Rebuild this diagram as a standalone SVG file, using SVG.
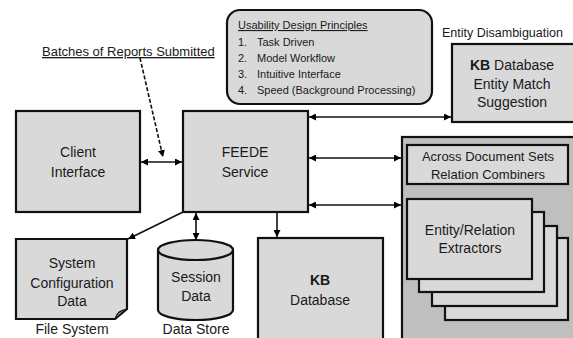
<svg xmlns="http://www.w3.org/2000/svg" width="573" height="338" viewBox="0 0 573 338">
<defs>
<marker id="ah" viewBox="0 0 8 8" refX="8" refY="4" markerWidth="7" markerHeight="7" markerUnits="userSpaceOnUse" orient="auto-start-reverse">
<path d="M0,0 L8,4 L0,8 z" fill="#000"/>
</marker>
<style>
text{font-family:"Liberation Sans",Arial,sans-serif;fill:#1a1a1a;}
.box{fill:#d9d9d9;stroke:#111;stroke-width:2.2;}
.lbl{font-size:14px;text-anchor:middle;}
.small{font-size:11px;}
.con{stroke:#111;stroke-width:1.6;fill:none;}
</style>
</defs>
<rect width="573" height="338" fill="#fff"/>

<g id="usability">
<rect x="227" y="10" width="205" height="94" rx="13" class="box"/>
<text x="238" y="29" class="small" text-decoration="underline">Usability Design Principles</text>
<text x="238" y="46" class="small">1.</text><text x="257" y="46" class="small">Task Driven</text>
<text x="238" y="62" class="small">2.</text><text x="257" y="62" class="small">Model Workflow</text>
<text x="238" y="78" class="small">3.</text><text x="257" y="78" class="small">Intuitive Interface</text>
<text x="238" y="94" class="small">4.</text><text x="257" y="94" class="small">Speed (Background Processing)</text>
</g>

<g id="batches">
<text x="42" y="56" style="font-size:13px" text-decoration="underline">Batches of Reports Submitted</text>
</g>

<g id="entity-disambiguation">
<text x="442" y="37" style="font-size:12.5px">Entity Disambiguation</text>
<rect x="452" y="44" width="125" height="78" class="box"/>
<text x="512" y="70" class="lbl"><tspan font-weight="bold">KB</tspan> Database</text>
<text x="512" y="89" class="lbl">Entity Match</text>
<text x="512" y="107" class="lbl">Suggestion</text>
</g>

<g id="client">
<rect x="16" y="111" width="124" height="101" class="box"/>
<text x="78" y="157" class="lbl">Client</text>
<text x="78" y="177" class="lbl">Interface</text>
</g>

<g id="feede">
<rect x="183" y="111" width="125" height="101" class="box"/>
<text x="245" y="157" class="lbl">FEEDE</text>
<text x="245" y="177" class="lbl">Service</text>
</g>

<g id="extraction">
<rect x="402" y="137" width="175" height="210" fill="#bfbfbf" stroke="#111" stroke-width="2.2"/>
<rect x="407" y="145" width="161" height="39" class="box"/>
<text x="488" y="161" class="lbl" style="font-size:13px">Across Document Sets</text>
<text x="488" y="179" class="lbl" style="font-size:13px">Relation Combiners</text>
<rect x="445" y="238" width="123" height="82" class="box"/>
<rect x="432" y="226" width="125" height="80" class="box"/>
<rect x="419" y="212" width="125" height="80" class="box"/>
<rect x="407" y="199" width="125" height="80" class="box"/>
<text x="470" y="235" class="lbl">Entity/Relation</text>
<text x="470" y="253" class="lbl">Extractors</text>
</g>

<g id="kb-database">
<rect x="258" y="238" width="125" height="110" class="box"/>
<text x="320" y="285" class="lbl" font-weight="bold">KB</text>
<text x="320" y="305" class="lbl">Database</text>
</g>

<g id="config">
<path d="M16,239 H127 V309 L115,319 H16 Z" class="box"/>
<path d="M115,319 C116,314 119,311 127,309 C121,310 117,312 115,319 Z" fill="#aaa" stroke="#111" stroke-width="1.2"/>
<text x="72" y="268" class="lbl">System</text>
<text x="72" y="288" class="lbl">Configuration</text>
<text x="72" y="306" class="lbl">Data</text>
<text x="72" y="334" class="lbl">File System</text>
</g>

<g id="session">
<path d="M158,250 V310 A37.5,10 0 0 0 233,310 V250" class="box"/>
<ellipse cx="195.5" cy="250" rx="37.5" ry="10" class="box"/>
<text x="196" y="282" class="lbl">Session</text>
<text x="196" y="301" class="lbl">Data</text>
<text x="196" y="334" class="lbl">Data Store</text>
</g>

<g id="connectors">
<line x1="140" y1="58" x2="163" y2="157" class="con" stroke-dasharray="4,2" marker-end="url(#ah)"/>
<line x1="141" y1="162" x2="182" y2="162" class="con" marker-start="url(#ah)" marker-end="url(#ah)"/>
<line x1="309" y1="117" x2="451" y2="117" class="con" marker-start="url(#ah)" marker-end="url(#ah)"/>
<line x1="309" y1="158" x2="401" y2="158" class="con" marker-start="url(#ah)" marker-end="url(#ah)"/>
<line x1="309" y1="205" x2="401" y2="205" class="con" marker-start="url(#ah)" marker-end="url(#ah)"/>
<line x1="196" y1="213" x2="196" y2="240" class="con" marker-start="url(#ah)" marker-end="url(#ah)"/>
<line x1="277" y1="213" x2="277" y2="237" class="con" marker-end="url(#ah)"/>
<line x1="183" y1="212" x2="128" y2="239" class="con" marker-end="url(#ah)"/>
</g>
</svg>
